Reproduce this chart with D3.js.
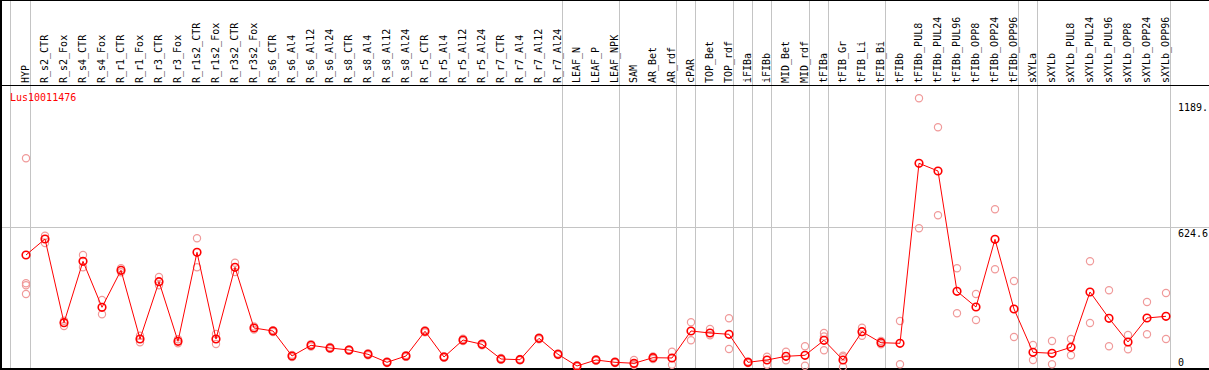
<!DOCTYPE html>
<html>
<head>
<meta charset="utf-8">
<script src="https://cdn.jsdelivr.net/npm/d3@7"></script>
<style>
  body { margin: 0; background: #fff; }
  svg { display: block; }
  text { font-family: "DejaVu Sans Mono", monospace; font-size: 10px; }
</style>
</head>
<body>
<div id="chart"></div>
<script>
// samples (columns), left to right
const categories = [
  "HYP", "R_s2_CTR", "R_s2_Fox", "R_s4_CTR", "R_s4_Fox", "R_r1_CTR", "R_r1_Fox",
  "R_r3_CTR", "R_r3_Fox", "R_r1s2_CTR", "R_r1s2_Fox", "R_r3s2_CTR", "R_r3s2_Fox",
  "R_s6_CTR", "R_s6_Al4", "R_s6_Al12", "R_s6_Al24", "R_s8_CTR", "R_s8_Al4",
  "R_s8_Al12", "R_s8_Al24", "R_r5_CTR", "R_r5_Al4", "R_r5_Al12", "R_r5_Al24",
  "R_r7_CTR", "R_r7_Al4", "R_r7_Al12", "R_r7_Al24", "LEAF_N", "LEAF_P", "LEAF_NPK",
  "SAM", "AR_Bet", "AR_rdf", "cPAR", "TOP_Bet", "TOP_rdf", "iFIBa", "iFIBb",
  "MID_Bet", "MID_rdf", "tFIBa", "tFIB_Gr", "tFIB_Li", "tFIB_Bi", "tFIBb",
  "tFIBb_PUL8", "tFIBb_PUL24", "tFIBb_PUL96", "tFIBb_OPP8", "tFIBb_OPP24", "tFIBb_OPP96",
  "sXYLa", "sXYLb", "sXYLb_PUL8", "sXYLb_PUL24", "sXYLb_PUL96", "sXYLb_OPP8",
  "sXYLb_OPP24", "sXYLb_OPP96"
];

// mean expression per sample
const means = [
  505.6, 575.4, 210.3, 478.1, 277.5, 438.9, 139.2, 389.1, 129.1, 517.4, 139.2, 452.0,
  187.2, 174.1, 65.0, 111.7, 99.9, 91.2, 72.4, 37.5, 65.0, 172.8, 60.6, 134.8, 116.0,
  51.9, 48.9, 142.2, 72.4, 21.4, 47.6, 37.5, 33.2, 57.6, 56.3, 174.1, 165.3, 159.7,
  37.5, 47.6, 63.7, 68.1, 133.5, 47.6, 171.0, 123.0, 120.4, 905.7, 872.1, 347.3,
  278.8, 574.1, 270.0, 81.1, 76.8, 103.0, 344.2, 229.5, 126.1, 230.8, 238.2
];

// individual replicates per sample
const replicates = [
  [927.5, 382.2, 373.4, 335.5], [589.8, 558.0], [219.0, 195.9], [505.6, 452.0],
  [309.3, 246.9], [447.6, 430.1], [153.6, 124.8], [409.6, 373.4], [137.9, 120.4],
  [578.5, 452.0], [161.0, 117.4], [472.0, 431.5], [180, 194], [170, 178], [60, 70],
  [106, 117], [96, 104], [88, 94], [68, 77], [34, 41], [61, 69], [168, 178], [57, 64],
  [130, 140], [112, 120], [48, 56], [46, 52], [138, 146], [69, 76], [18, 25], [44, 51],
  [34, 41], [47.6, 25.7, 30], [52, 63], [83.8, 27.0], [212.0, 133.5], [182.8, 155.3],
  [229.5, 95.5], [34, 41], [61.9, 27.0], [83.8, 46.2], [107.3, 22.7],
  [165.3, 89.9, 150], [66.3, 17.0, 60], [188.5, 153.6], [130.4, 116.0], [217.7, 28.8],
  [1189.2, 622.1], [1062.7, 678.8], [447.6, 251.3], [335.5, 222.1], [705.0, 443.2],
  [392.2, 147.9], [113.0, 47.6], [130.4, 28.8], [139.2, 68.1], [478.1, 209.0],
  [351.6, 107.3], [156.6, 94.2], [300.6, 159.7], [339.8, 139.2]
];

// group separators are drawn right after these samples
const separatorsAfter = [
  "HYP", "R_r7_Al24", "LEAF_NPK", "AR_rdf", "cPAR", "TOP_rdf", "iFIBa", "iFIBb",
  "MID_rdf", "tFIBa", "tFIB_Bi", "tFIBb_OPP96", "sXYLa", "sXYLb_OPP96"
];

const geneName = "Lus10011476";
const yMax = 1189.2;
const yTickLabels = ["1189.", "624.6", "0"];

const W = 1209, H = 370;
const headerH = 85;

const svg = d3.select("#chart").append("svg")
  .attr("width", W)
  .attr("height", H);

const x = d3.scalePoint()
  .domain(categories)
  .range([26, 1166]);
const step = x.step();

const y = d3.scaleLinear()
  .domain([0, yMax])
  .range([370.9, 98.3]);

const px = v => Math.floor(v) + 0.5; // crisp 1px lines

// grid: vertical separators
const sepX = [x(categories[0]) - step * 0.8].concat(separatorsAfter.map(c => x(c) + step * 0.25));
svg.append("g")
  .selectAll("line")
  .data(sepX)
  .join("line")
    .attr("x1", d => px(d)).attr("x2", d => px(d))
    .attr("y1", 0).attr("y2", H)
    .attr("stroke", "#c4c4c4")
    .attr("stroke-width", 1)
    .attr("shape-rendering", "crispEdges");

// mid horizontal grid line
const midY = (headerH + H) / 2;
svg.append("line")
  .attr("x1", 0).attr("x2", W)
  .attr("y1", px(midY)).attr("y2", px(midY))
  .attr("stroke", "#c4c4c4")
  .attr("shape-rendering", "crispEdges");

// frame
const frame = svg.append("g")
  .attr("stroke", "#000")
  .attr("shape-rendering", "crispEdges");
frame.append("line").attr("x1", 0).attr("x2", W).attr("y1", 0.5).attr("y2", 0.5);
frame.append("line").attr("x1", 0).attr("x2", W).attr("y1", headerH + 0.5).attr("y2", headerH + 0.5);
frame.append("line").attr("x1", 0).attr("x2", W).attr("y1", H - 1.5).attr("y2", H - 1.5).attr("stroke-width", 2);
frame.append("line").attr("x1", 1).attr("x2", 1).attr("y1", 0).attr("y2", H).attr("stroke-width", 2);

// column labels (rotated)
svg.append("g")
  .selectAll("text")
  .data(categories)
  .join("text")
    .attr("transform", d => `translate(${x(d) + 3.3},${headerH - 2}) rotate(-90)`)
    .attr("fill", "#000")
    .text(d => d);

// gene name
svg.append("text")
  .attr("x", 10)
  .attr("y", 101)
  .attr("fill", "#f00")
  .text(geneName);

// right-side value labels
const labelY = [110.5, 236.5, 365.5];
svg.append("g")
  .selectAll("text")
  .data(yTickLabels)
  .join("text")
    .attr("x", 1178)
    .attr("y", (d, i) => labelY[i])
    .attr("fill", "#000")
    .text(d => d);

// replicate points
const reps = [];
replicates.forEach((arr, i) => arr.forEach(v => reps.push({ c: categories[i], v })));
svg.append("g")
  .selectAll("circle")
  .data(reps)
  .join("circle")
    .attr("cx", d => x(d.c))
    .attr("cy", d => y(d.v))
    .attr("r", 3.6)
    .attr("fill", "none")
    .attr("stroke", "#f09a9a")
    .attr("stroke-width", 1.2);

// mean line
const line = d3.line()
  .x((d, i) => x(categories[i]))
  .y(d => y(d));
svg.append("path")
  .datum(means)
  .attr("d", line)
  .attr("fill", "none")
  .attr("stroke", "#f00")
  .attr("stroke-width", 1);

// mean points
svg.append("g")
  .selectAll("circle")
  .data(means)
  .join("circle")
    .attr("cx", (d, i) => x(categories[i]))
    .attr("cy", d => y(d))
    .attr("r", 3.8)
    .attr("fill", "none")
    .attr("stroke", "#f00")
    .attr("stroke-width", 1.6);
</script>
</body>
</html>
